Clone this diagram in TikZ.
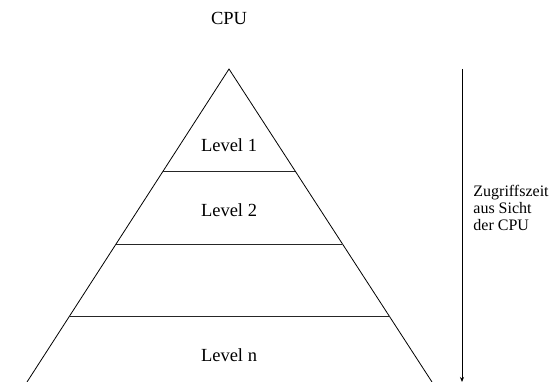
\documentclass[tikz,border=0pt]{standalone}
\usepackage{fontspec}
\setmainfont{Liberation Serif}
\usetikzlibrary{arrows.meta,calc}

\begin{document}
\begin{tikzpicture}[
  x=1pt, y=-1pt,
  line width=0.8pt,
  lvl/.style={font=\fontsize{18.5}{22}\selectfont, inner sep=0pt},
  side/.style={font=\fontsize{16}{17}\selectfont, align=left, inner sep=0pt},
  sep/.style={black!85, line width=0.9pt},
  arr/.style={-{Stealth[length=5pt, width=4pt]}}
]
\useasboundingbox (0,0) rectangle (559,382);
% pyramid
\coordinate (apex) at (229,69);
\coordinate (bl) at (27,382);
\coordinate (br) at (432,382);
\draw (bl) -- (apex) -- (br);
\foreach \t/\n in {0.326/a,0.559/b,0.792/c}
  \draw[sep] ($(apex)!\t!(bl)$) coordinate (l\n) -- ($(apex)!\t!(br)$) coordinate (r\n);
\node[lvl] (cpu) at (229,18) {CPU};
\node[lvl] (lvl1) at (229,145) {Level 1};
\node[lvl] (lvl2) at (229,210) {Level 2};
\node[lvl] (lvln) at (229,355) {Level n};
% access time
\coordinate (ttop) at (462,69);
\coordinate (tbot) at (462,382);
\draw[arr] (ttop) -- (tbot);
\node[side, anchor=west] (zeit) at (473,208) {Zugriffszeit\\aus Sicht\\der CPU};
\end{tikzpicture}
\end{document}
